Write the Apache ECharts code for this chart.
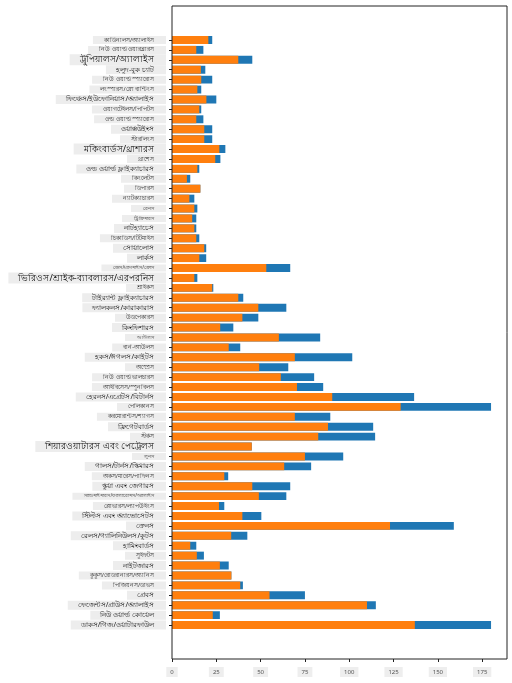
<!DOCTYPE html>
<html>
<head>
<meta charset="utf-8">
<script src="https://cdn.jsdelivr.net/npm/echarts@6/dist/echarts.min.js"></script>
<style>
html, body { margin: 0; padding: 0; background: #fff; }
#chart { width: 512px; height: 683px; }
</style>
</head>
<body>
<div id="chart"></div>
<script>
// bird categories, in dataset order (first one is drawn at the bottom)
var categories = [
    'ডাকস/গিজ/ওয়াটারফাউল', 'নিউ ওয়ার্ল্ড কোয়েল', 'ফেজেন্টস/গ্রাউস/অ্যালাইস', 'গ্রেবস',
    'পিজিয়নস/ডাভস', 'কুকুস/রোডরানারস/অ্যানিস', 'নাইটজারস', 'সুইফটস', 'হামিংবার্ডস',
    'রেলস/গ্যালিনিউলস/কুটস', 'ক্রেনস', 'স্টিল্টস এবং অ্যাভোসেটস', 'প্লোভারস/ল্যাপউইংস',
    'স্যান্ডপাইপারস/ফ্যালারোপস/অ্যালাইস', 'স্কুয়া এবং জেগারস', 'অকস/মারেস/পাফিনস',
    'গালস/টার্নস/স্কিমারস', 'লুনস', 'শিয়ারওয়াটারস এবং পেট্রেলস', 'স্টর্কস', 'ফ্রিগেটবার্ডস',
    'করমোরান্টস/শ্যাগস', 'পেলিকানস', 'হেরনস/এগ্রেটস/বিটার্নস', 'আইবিসেস/স্পুনবিলস',
    'নিউ ওয়ার্ল্ড ভালচারস', 'অস্প্রেস', 'হকস/ঈগলস/কাইটস', 'বার্ন-আউলস', 'আউলস', 'কিংফিশারস',
    'উডপেকারস', 'ফ্যালকনস/কারাকারাস', 'টাইর‍্যান্ট ফ্লাইক্যাচারস', 'শ্রাইকস',
    'ভিরিওস/শ্রাইক-ব্যাবলারস/এরপরনিস', 'জেস/ম্যাগপাইস/ক্রোস', 'লার্কস', 'সোয়ালোস',
    'চিকাডিস/টিটমাইস', 'নাটহ্যাচেস', 'ট্রিক্রিপারস', 'রেনস', 'ন্যাটক্যাচারস', 'ডিপারস',
    'কিংলেটস', 'ওল্ড ওয়ার্ল্ড ফ্লাইক্যাচারস', 'থ্রাশেস', 'মকিংবার্ডস/থ্রাশারস', 'স্টারলিংস',
    'ওয়াক্সউইংস', 'ওল্ড ওয়ার্ল্ড স্প্যারোস', 'ওয়াগটেইলস/পিপিটস', 'ফিঞ্চেস/ইউফোনিয়াস/অ্যালাইস',
    'লংস্পারস/স্নো বান্টিংস', 'নিউ ওয়ার্ল্ড স্প্যারোস', 'হলুদ-বুক চ্যাট', 'ট্রুপিয়ালস/অ্যালাইস',
    'নিউ ওয়ার্ল্ড ওয়ারব্লারস', 'কার্ডিনালস/অ্যালাইস'
];

var minLength = [
    137, 23, 110, 55, 38.5, 33.5, 27, 14, 10.3, 33.4,
    123, 39.7, 26.5, 49, 45.3, 29.5, 63.3, 75, 45, 82.5,
    88, 69.3, 129, 90.4, 70.5, 61.4, 49.2, 69.3, 32, 60.3,
    27.2, 39.7, 48.7, 37.4, 22.7, 12.6, 53.2, 15.4, 18.2, 13.7,
    12.6, 11.4, 12.6, 9.8, 16, 8.4, 14.3, 24.4, 26.7, 18.2,
    18.2, 13.7, 15.4, 19.4, 14.3, 16.5, 16.3, 37.4, 13.7, 20.5
];

var maxLength = [
    180, 27, 115, 75, 40, 33.5, 32, 18, 13.7, 42.5,
    159, 50.4, 29.5, 64.5, 66.7, 31.7, 78.5, 96.6, 45, 114.6,
    113.5, 89.3, 180, 136.6, 85.3, 80.2, 65.6, 101.7, 38.5, 83.6,
    34.6, 48.7, 64.5, 40.2, 23.3, 14.3, 66.7, 19.3, 19.3, 15.4,
    13.7, 13.7, 14.3, 12.6, 16, 10.3, 15.4, 27.3, 30.1, 22.7,
    22.7, 17.7, 16.5, 25, 16.5, 22.7, 18.8, 45.3, 17.7, 22.7
];

var xTicks = [0, 25, 50, 75, 100, 125, 150, 175];

// label text size per row, read top to bottom (t tiny, s small, m medium, l large)
var labelSizes = 'sslmssmssmslsmssstt' + 'msmmtlsmmsm' + 'tsmsssmssmsltmsmt' + 'smmmmsmssmmmm';

var font = "'Noto Sans', 'DejaVu Sans', sans-serif";
var boxColor = '#ededed';

var option = {
    animation: false,
    backgroundColor: '#fff',
    grid: {
        left: 172,
        right: 5,
        top: 35,
        bottom: 53
    },
    xAxis: {
        type: 'value',
        min: 0,
        max: 189,
        interval: 25,
        offset: 29,
        splitLine: { show: false },
        axisLine: { show: false },
        axisTick: { show: true, length: 3, lineStyle: { color: '#222' } },
        axisLabel: {
            showMaxLabel: false,
            fontSize: 6,
            fontFamily: font,
            color: '#555',
            backgroundColor: '#eeeeee',
            padding: [2, 4],
            margin: 8,
            formatter: function (v) {
                return xTicks.indexOf(v) >= 0 ? String(v) : '';
            }
        }
    },
    yAxis: {
        type: 'category',
        data: categories,
        axisLine: { show: false },
        axisTick: { show: true, alignWithLabel: true, length: 3, lineStyle: { color: '#222' } },
        axisLabel: {
            interval: 0,
            margin: 6,
            fontFamily: font,
            formatter: function (v, i) {
                var s = labelSizes.charAt(categories.length - 1 - i) || 's';
                return '{' + s + '|' + v + '}';
            },
            rich: {
                t: { fontSize: 4.8, lineHeight: 7, color: '#444', backgroundColor: boxColor, padding: [1, 12, 1, 12], fontFamily: font },
                s: { fontSize: 5.6, lineHeight: 7, color: '#333', backgroundColor: boxColor, padding: [1, 12, 1, 11], fontFamily: font },
                m: { fontSize: 7, lineHeight: 8, color: '#1a1a1a', backgroundColor: boxColor, padding: [1, 12, 1, 10], fontFamily: font },
                l: { fontSize: 9, lineHeight: 9, color: '#111', backgroundColor: boxColor, padding: [1, 12, 1, 10], fontFamily: font }
            }
        }
    },
    graphic: [{
        type: 'rect',
        silent: true,
        z: 100,
        shape: { x: 172, y: 6, width: 335, height: 653 },
        style: { fill: 'none', stroke: '#222', lineWidth: 1 }
    }],
    series: [
        {
            name: 'MaxLength',
            type: 'bar',
            data: maxLength,
            barWidth: '80%',
            barGap: '-100%',
            itemStyle: { color: '#1f77b4' }
        },
        {
            name: 'MinLength',
            type: 'bar',
            data: minLength,
            barWidth: '80%',
            barGap: '-100%',
            itemStyle: { color: '#ff7f0e' }
        }
    ]
};

var chart = echarts.init(document.getElementById('chart'));
chart.setOption(option);
</script>
</body>
</html>
